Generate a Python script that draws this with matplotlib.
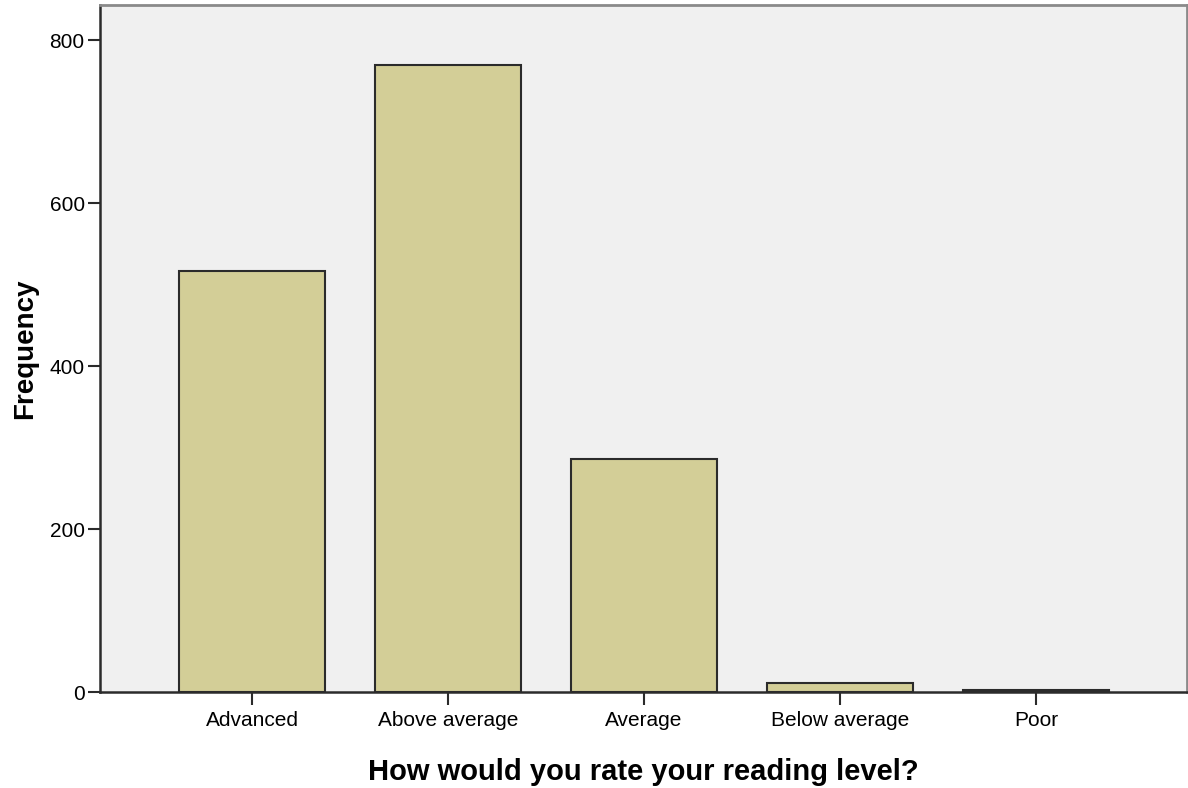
#!/usr/bin/env python3
import matplotlib
matplotlib.use("Agg")
import matplotlib.pyplot as plt

# reading level survey counts
categories = ["Advanced", "Above average", "Average", "Below average", "Poor"]
frequency = [517, 769, 286, 11, 2]
y_ticks = [0, 200, 400, 600, 800]

plt.rcParams["font.family"] = ["Liberation Sans", "DejaVu Sans"]

fig = plt.figure(figsize=(11.88, 7.88), dpi=100)
ax = fig.add_axes([100 / 1188, 1 - 692 / 788, 1087 / 1188, 687 / 788])
ax.set_facecolor("#f0f0f0")

x = list(range(len(categories)))
ax.bar(x, frequency, width=0.745, color="#d3ce97", edgecolor="#2b2b2b",
       linewidth=1.5, zorder=3)

ax.set_xlim(-0.776, 4.77)
ax.set_ylim(0, 843)
ax.set_xticks(x)
ax.set_xticklabels(categories, fontsize=15)
ax.set_yticks(y_ticks)
ax.set_yticklabels([str(v) for v in y_ticks], fontsize=15)
ax.tick_params(axis="both", direction="out", length=9, width=1.5,
               color="#2b2b2b", pad=2)
ax.tick_params(axis="x", pad=5)

ax.set_xlabel("How would you rate your reading level?", fontsize=21,
              fontweight="bold", labelpad=20)
ax.set_ylabel("Frequency", fontsize=20, fontweight="bold", labelpad=8)

for side in ["left", "bottom"]:
    ax.spines[side].set_color("#2b2b2b")
    ax.spines[side].set_linewidth(1.8)
for side in ["top", "right"]:
    ax.spines[side].set_color("#8a8a8a")
    ax.spines[side].set_linewidth(2)

plt.savefig("out.png", dpi=100)
